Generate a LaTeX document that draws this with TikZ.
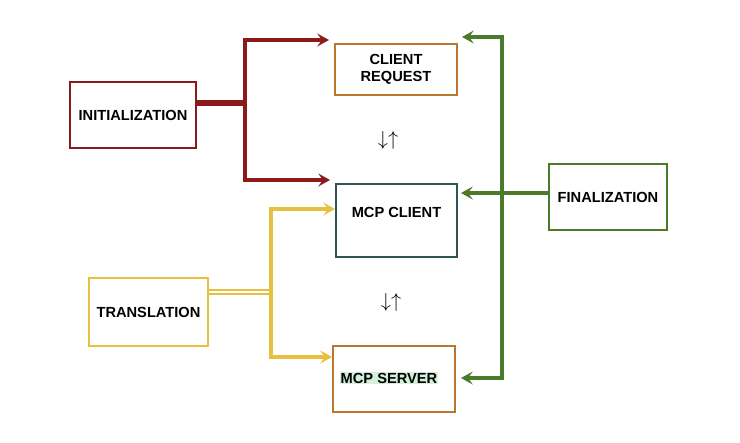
\documentclass[tikz,border=0pt]{standalone}
\usepackage{fontspec}
\setmainfont{Liberation Sans}
\usetikzlibrary{arrows.meta}
\definecolor{initred}{HTML}{8B1A1A}
\definecolor{transyellow}{HTML}{E8C040}
\definecolor{finalgreen}{HTML}{4A7A2A}
\definecolor{boxbrown}{HTML}{B87830}
\definecolor{boxteal}{HTML}{2F5555}
\definecolor{hlgreen}{HTML}{D4F0DC}
\tikzset{
  box/.style={draw, line width=1.7pt, inner sep=0pt, font=\fontsize{12.5}{14.5}\selectfont\bfseries, align=center},
  link/.style={line width=2.8pt, -{Stealth[length=10pt,width=11pt,inset=4pt]}},
  swap/.style={font=\LARGE}
}
\begin{document}
\begin{tikzpicture}[x=0.03cm,y=-0.03cm]
\useasboundingbox (0,0) rectangle (740,442);

% middle column
\node [box, draw=boxbrown, minimum width=122*0.03cm, minimum height=51*0.03cm] (request) at (396,69.5) {CLIENT\\REQUEST};
\node [box, draw=boxteal, minimum width=121*0.03cm, minimum height=73*0.03cm] (client) at (396.5,220.5) {};
\node [font=\fontsize{12.5}{14.5}\selectfont\bfseries] (clienttext) at (396.5,212) {MCP CLIENT};
\node [box, draw=boxbrown, minimum width=122*0.03cm, minimum height=66*0.03cm] (server) at (394,379) {};
\node [fill=hlgreen, inner sep=1pt, font=\fontsize{12.5}{14.5}\selectfont\bfseries] (servertext) at (389,378) {MCP SERVER};

% side boxes
\node [box, draw=initred, minimum width=126*0.03cm, minimum height=66*0.03cm] (init) at (133,115) {INITIALIZATION};
\node [box, draw=transyellow, minimum width=119*0.03cm, minimum height=68*0.03cm] (trans) at (148.5,312) {TRANSLATION};
\node [box, draw=finalgreen, minimum width=118*0.03cm, minimum height=66*0.03cm] (final) at (608,197) {FINALIZATION};

% swap marks
\node [swap] (swapa) at (388,140) {$\downarrow\uparrow$};
\node [swap] (swapb) at (391,302) {$\downarrow\uparrow$};

% branch points
\coordinate (initfork) at (245,103);
\coordinate (transfork) at (271,292);
\coordinate (finalfork) at (502,193);

% initialization arrows
\draw [initred, line width=4.5pt] (init.east |- initfork) -- (initfork);
\draw [link, initred] (initfork) |- ([xshift=-5*0.03cm]request.west |- 0,40);
\draw [link, initred] (initfork) |- ([xshift=-5*0.03cm]client.west |- 0,180);

% translation arrows
\draw [transyellow, line width=2pt, double distance=1.8pt] (trans.east |- transfork) -- (transfork);
\draw [link, transyellow] (transfork) |- (client.west |- 0,209);
\draw [link, transyellow] (transfork) |- (server.west |- 0,357);

% finalization arrows
\draw [finalgreen, line width=2.8pt] (final.west |- finalfork) -- (finalfork);
\draw [link, finalgreen] (finalfork) |- ([xshift=4*0.03cm]request.east |- 0,37);
\draw [link, finalgreen] (finalfork) -- ([xshift=3*0.03cm]client.east |- finalfork);
\draw [link, finalgreen] (finalfork) |- ([xshift=5*0.03cm]server.east |- 0,378);
\end{tikzpicture}
\end{document}
